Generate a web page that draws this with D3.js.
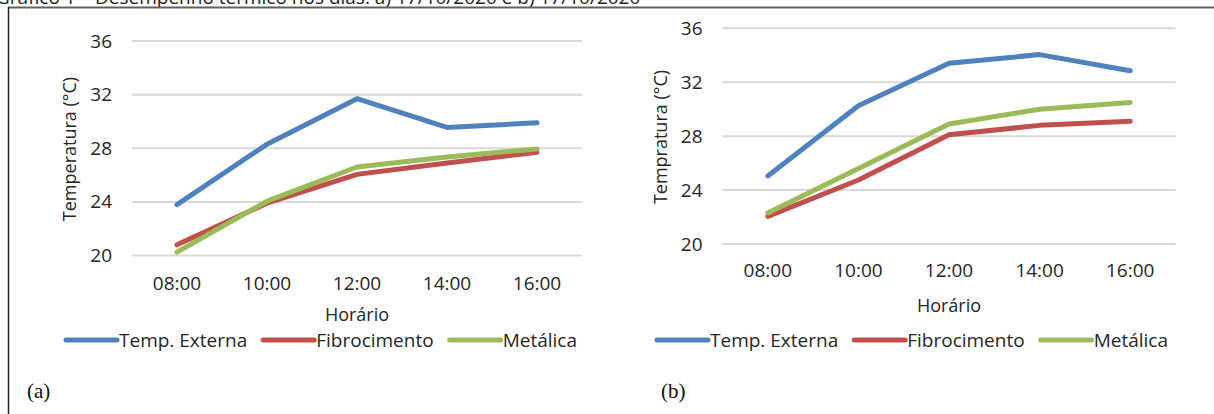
<!DOCTYPE html>
<html>
<head>
<meta charset="utf-8">
<script src="https://cdn.jsdelivr.net/npm/d3@7"></script>
<style>
  html, body { margin: 0; padding: 0; background: #fff; overflow: hidden; }
  svg { display: block; }
</style>
</head>
<body>
<svg id="c" width="1214" height="414"></svg>
<script>
// ---- Data ----
const categories = ["08:00", "10:00", "12:00", "14:00", "16:00"];
const seriesNames = ["Temp. Externa", "Fibrocimento", "Metálica"];
const seriesColors = ["#4F81BD", "#C0504D", "#9BBB59"];
const yTicks = [20, 24, 28, 32, 36];

// (a)
const aTempExterna = [23.8, 28.3, 31.7, 29.55, 29.9];
const aFibrocimento = [20.8, 23.9, 26.05, 26.9, 27.7];
const aMetalica = [20.25, 24.05, 26.6, 27.35, 27.95];
// (b)
const bTempExterna = [25.05, 30.25, 33.4, 34.05, 32.85];
const bFibrocimento = [22.05, 24.75, 28.1, 28.8, 29.1];
const bMetalica = [22.3, 25.6, 28.9, 30.0, 30.5];

const titleText = "Gráfico 1 – Desempenho térmico nos dias: a) 17/10/2020 e b) 17/10/2020";

// ---- Drawing ----
const SANS = "'Open Sans', sans-serif";
const SERIF = "'Liberation Serif', 'Times New Roman', serif";
const svg = d3.select("#c");

// partially visible caption at top (cut by the page edge, as in the source)
svg.append("text").attr("x", -4).attr("y", 4)
  .style("font-family", SANS).style("font-size", "19px").style("fill", "#222").text(titleText);

// frame
svg.append("line").attr("x1", 8).attr("x2", 1214).attr("y1", 7.5).attr("y2", 7.5)
  .attr("stroke", "#606060").attr("stroke-width", 2);
svg.append("line").attr("x1", 8.5).attr("x2", 8.5).attr("y1", 7).attr("y2", 414)
  .attr("stroke", "#222").attr("stroke-width", 1.5);

function drawChart(cfg) {
  const g = svg.append("g");
  const x = d3.scaleBand().domain(categories).range([cfg.x0, cfg.x1]);
  const y = d3.scaleLinear().domain([20, 36]).range([cfg.yBottom, cfg.yTop]);

  // gridlines
  g.selectAll("line.grid").data(yTicks).enter().append("line")
    .attr("x1", cfg.x0).attr("x2", cfg.x1)
    .attr("y1", d => y(d)).attr("y2", d => y(d))
    .attr("stroke", "#D9D9D9").attr("stroke-width", 2);

  // y axis labels
  const yAxis = d3.axisLeft(y).tickValues(yTicks).tickSize(0).tickPadding(20).tickFormat(d3.format("d"));
  const ya = g.append("g").attr("transform", `translate(${cfg.x0},0)`).call(yAxis);
  ya.select(".domain").remove();
  ya.selectAll("text").style("font-size", "19px").style("fill", "#262626")
    .style("font-family", SANS);

  // x axis labels
  const xAxis = d3.axisBottom(x).tickSize(0).tickPadding(0);
  const xa = g.append("g").attr("transform", `translate(0,${cfg.xLabelY})`).call(xAxis);
  xa.select(".domain").remove();
  xa.selectAll("text").style("font-size", "19px").style("fill", "#262626")
    .style("font-family", SANS).attr("dy", "0.35em");

  // axis titles
  g.append("text").attr("x", (cfg.x0 + cfg.x1) / 2).attr("y", cfg.xTitleY)
    .attr("text-anchor", "middle").attr("dy", "0.35em")
    .style("font-family", SANS).style("font-size", "18px").style("fill", "#262626")
    .text("Horário");
  g.append("text")
    .attr("transform", `translate(${cfg.yTitleX},${cfg.yTitleY}) rotate(-90)`)
    .attr("text-anchor", "middle").attr("dy", "0.35em")
    .style("font-family", SANS).style("font-size", "18px").style("fill", "#262626")
    .text(cfg.yTitle);

  // lines
  const line = d3.line()
    .x((d, i) => x(categories[i]) + x.bandwidth() / 2)
    .y(d => y(d));
  cfg.series.forEach((vals, k) => {
    g.append("path").datum(vals)
      .attr("fill", "none").attr("stroke", seriesColors[k])
      .attr("stroke-width", 5).attr("stroke-linejoin", "round").attr("stroke-linecap", "round")
      .attr("d", line);
  });

  // legend
  let lx = cfg.legendX;
  seriesNames.forEach((name, k) => {
    g.append("line").attr("x1", lx + 3).attr("x2", lx + 54)
      .attr("y1", cfg.legendY).attr("y2", cfg.legendY)
      .attr("stroke", seriesColors[k]).attr("stroke-width", 5).attr("stroke-linecap", "round");
    const t = g.append("text").attr("x", lx + 56).attr("y", cfg.legendY)
      .attr("dy", "0.35em")
      .style("font-family", SANS).style("font-size", "19px").style("fill", "#262626")
      .text(name);
    lx += 56 + t.node().getComputedTextLength() + 13;
  });

  // panel label
  g.append("text").attr("x", cfg.panelX).attr("y", cfg.panelY).attr("dy", "0.35em")
    .style("font-family", SERIF).style("font-size", "21px").style("fill", "#111")
    .text(cfg.panel);
}

drawChart({
  x0: 132, x1: 582, yTop: 41, yBottom: 255.5,
  xLabelY: 283, xTitleY: 315, yTitleX: 70, yTitleY: 149,
  yTitle: "Temperatura (°C)",
  series: [aTempExterna, aFibrocimento, aMetalica],
  legendX: 63, legendY: 340, panel: "(a)", panelX: 27, panelY: 391
});

drawChart({
  x0: 722.5, x1: 1175.5, yTop: 28.3, yBottom: 244,
  xLabelY: 270, xTitleY: 306, yTitleX: 661, yTitleY: 137,
  yTitle: "Tempratura (°C)",
  series: [bTempExterna, bFibrocimento, bMetalica],
  legendX: 654, legendY: 340, panel: "(b)", panelX: 661, panelY: 391
});
</script>
</body>
</html>
